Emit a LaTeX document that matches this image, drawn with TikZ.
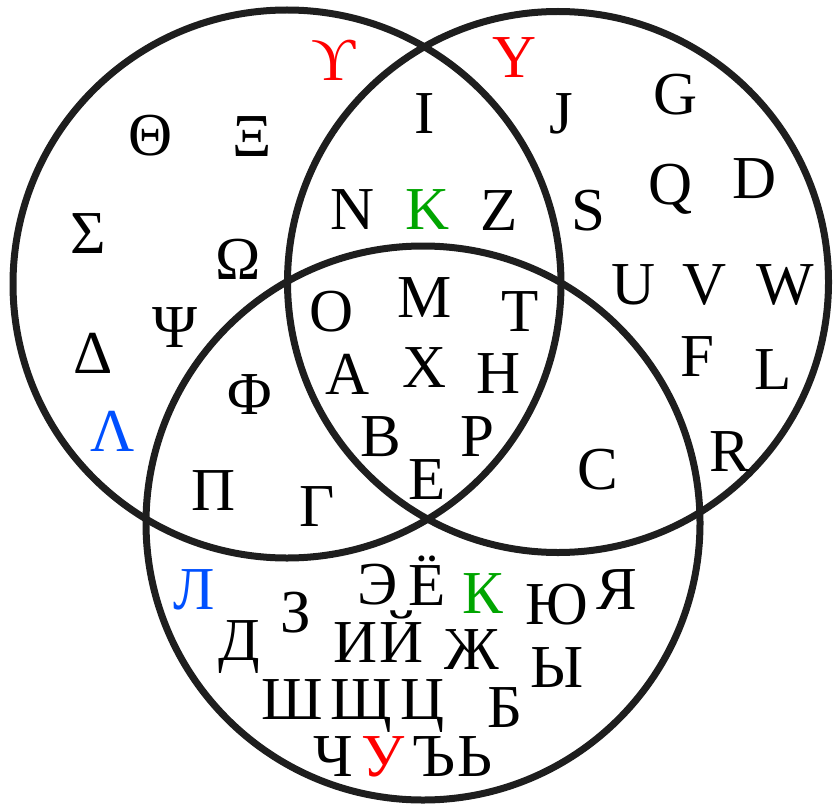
\documentclass[tikz,border=0pt]{standalone}
\usepackage{fontspec}
\setmainfont{Liberation Serif}
\definecolor{ringc}{RGB}{30,30,30}
\definecolor{lred}{RGB}{255,0,0}
\definecolor{lgreen}{RGB}{0,165,0}
\definecolor{lblue}{RGB}{0,80,255}
\tikzset{
  ltr/.style={inner sep=0pt, text height=40pt, text depth=0pt, anchor=center, font=\fontsize{61}{61}\selectfont},
  ring/.style={draw=ringc, line width=7pt}
}
\begin{document}
\begin{tikzpicture}[x=1pt,y=-1pt]
\useasboundingbox (0,0) rectangle (834,805);
% circles
\node[ring, circle, minimum size=548pt, inner sep=0pt] (greek) at (287,284) {};
\node[ring, circle, minimum size=541pt, inner sep=0pt] (latin) at (558,282) {};
\node[ring, circle, minimum size=554pt, inner sep=0pt] (cyr) at (423,523) {};
% Greek only
\node[ltr, text=lred] (g1) at (334,61) {ϒ};
\node[ltr] (g2) at (151,136) {Θ};
\node[ltr] (g3) at (252,137) {Ξ};
\node[ltr] (g4) at (88,233) {Σ};
\node[ltr] (g5) at (238,259) {Ω};
\node[ltr] (g6) at (175,327) {Ψ};
\node[ltr] (g7) at (93,353) {Δ};
\node[ltr, text=lblue] (g8) at (113,431) {Λ};
% Greek & Cyrillic
\node[ltr] (gc1) at (250,394) {Φ};
\node[ltr] (gc2) at (214,490) {Π};
\node[ltr] (gc3) at (317,506) {Γ};
% all three
\node[ltr] (a1) at (332,311) {O};
\node[ltr] (a2) at (425,297) {M};
\node[ltr] (a3) at (520,311) {T};
\node[ltr] (a4) at (348,374) {A};
\node[ltr] (a5) at (425,367) {X};
\node[ltr] (a6) at (499,373) {H};
\node[ltr] (a7) at (381,436) {B};
\node[ltr] (a8) at (477,436) {P};
\node[ltr] (a9) at (427,479) {E};
% Greek & Latin
\node[ltr] (gl1) at (425,114) {I};
\node[ltr] (gl2) at (353,209) {N};
\node[ltr, text=lgreen] (gl3) at (428,209) {K};
\node[ltr] (gl4) at (499,210) {Z};
% Latin only
\node[ltr, text=lred] (l1) at (515,58) {Y};
\node[ltr] (l2) at (561,114) {J};
\node[ltr] (l3) at (676,95) {G};
\node[ltr] (l4) at (588,210) {S};
\node[ltr] (l5) at (671,184) {Q};
\node[ltr] (l6) at (755,178) {D};
\node[ltr] (l7) at (634,284) {U};
\node[ltr] (l8) at (705,284) {V};
\node[ltr] (l9) at (785,284) {W};
\node[ltr] (l10) at (697,356) {F};
\node[ltr] (l11) at (773,369) {L};
\node[ltr] (l12) at (730,451) {R};
% Latin & Cyrillic
\node[ltr] (lc1) at (598,469) {C};
% Cyrillic only
\node[ltr, text=lblue] (c1) at (194,589) {Л};
\node[ltr] (c2) at (296,612) {З};
\node[ltr] (c3) at (239,640) {Д};
\node[ltr] (c4) at (378,584) {Э};
\node[ltr] (c5) at (427,585) {Ё};
\node[ltr, text=lgreen] (c6) at (483,593) {К};
\node[ltr] (c7) at (557,604) {Ю};
\node[ltr] (c8) at (617,589) {Я};
\node[ltr] (c9) at (356,642) {И};
\node[ltr] (c10) at (402,642) {Й};
\node[ltr] (c11) at (472,649) {Ж};
\node[ltr] (c12) at (557,667) {Ы};
\node[ltr] (c13) at (292,699) {Ш};
\node[ltr] (c14) at (361,699) {Щ};
\node[ltr] (c15) at (423,699) {Ц};
\node[ltr] (c16) at (505,707) {Б};
\node[ltr] (c17) at (333,756) {Ч};
\node[ltr, text=lred] (c18) at (383,756) {У};
\node[ltr] (c19) at (434,756) {Ъ};
\node[ltr] (c20) at (475,756) {Ь};
\end{tikzpicture}
\end{document}
